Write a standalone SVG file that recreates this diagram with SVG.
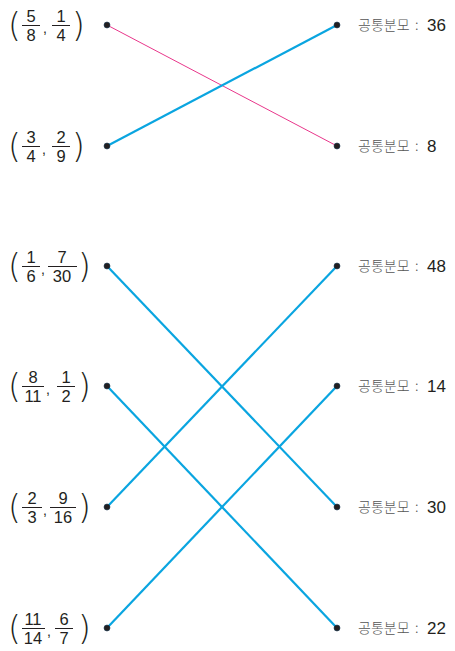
<svg xmlns="http://www.w3.org/2000/svg" width="455" height="651" viewBox="0 0 455 651">
<style>
.num{font-family:"Liberation Sans","Noto Sans",sans-serif;font-size:16.5px;fill:#231f20;text-anchor:middle}
.cm{font-family:"Liberation Sans",sans-serif;font-size:14px;fill:#231f20;text-anchor:middle}
.par{font-family:"DejaVu Sans","Liberation Sans",sans-serif;font-size:33px;fill:#231f20;font-weight:200}
.bar{stroke:#231f20;stroke-width:1}
.ko{font-family:"Noto Sans CJK KR",sans-serif;font-size:14px;fill:#555;font-weight:300}
.val{font-family:"Liberation Sans","Noto Sans",sans-serif;font-size:17px;fill:#231f20}
.pink{stroke:#e8378b;stroke-width:1;fill:none}
.blue{stroke:#0aa5e0;stroke-width:2.2;fill:none}
.dot{fill:#231f20;stroke:#1a3a55;stroke-width:0.6}
</style>
<g id="connectors">
<line class="pink" x1="107" y1="25" x2="337" y2="146"/>
<line class="blue" x1="107" y1="146" x2="337" y2="25"/>
<line class="blue" x1="107" y1="266" x2="337" y2="507"/>
<line class="blue" x1="107" y1="386" x2="337" y2="628"/>
<line class="blue" x1="107" y1="507" x2="337" y2="266"/>
<line class="blue" x1="107" y1="628" x2="337" y2="386"/>
</g>
<g id="left1">
<text class="par" x="8" y="37">(</text>
<text class="num" x="31" y="22">5</text><line class="bar" x1="22" y1="25.5" x2="40" y2="25.5"/><text class="num" x="31" y="41">8</text>
<text class="cm" x="45" y="33">,</text>
<text class="num" x="61" y="22">1</text><line class="bar" x1="52" y1="25.5" x2="70" y2="25.5"/><text class="num" x="61" y="41">4</text>
<text class="par" x="72" y="37">)</text>
<circle class="dot" cx="107" cy="25" r="3"/>
</g>
<g id="left2">
<text class="par" x="8" y="158">(</text>
<text class="num" x="31" y="143">3</text><line class="bar" x1="22" y1="146.5" x2="40" y2="146.5"/><text class="num" x="31" y="162">4</text>
<text class="cm" x="44" y="154">,</text>
<text class="num" x="61" y="143">2</text><line class="bar" x1="52" y1="146.5" x2="70" y2="146.5"/><text class="num" x="61" y="162">9</text>
<text class="par" x="72" y="158">)</text>
<circle class="dot" cx="107" cy="146" r="3"/>
</g>
<g id="left3">
<text class="par" x="8" y="278">(</text>
<text class="num" x="31" y="263">1</text><line class="bar" x1="22" y1="266.5" x2="40" y2="266.5"/><text class="num" x="31" y="282">6</text>
<text class="cm" x="43" y="274">,</text>
<text class="num" x="62" y="263">7</text><line class="bar" x1="48" y1="266.5" x2="77" y2="266.5"/><text class="num" x="62" y="282">30</text>
<text class="par" x="78" y="278">)</text>
<circle class="dot" cx="107" cy="266" r="3"/>
</g>
<g id="left4">
<text class="par" x="8" y="398">(</text>
<text class="num" x="33" y="383">8</text><line class="bar" x1="22" y1="386.5" x2="44" y2="386.5"/><text class="num" x="33" y="402">11</text>
<text class="cm" x="48" y="394">,</text>
<text class="num" x="66" y="383">1</text><line class="bar" x1="57" y1="386.5" x2="75" y2="386.5"/><text class="num" x="66" y="402">2</text>
<text class="par" x="78" y="398">)</text>
<circle class="dot" cx="107" cy="386" r="3"/>
</g>
<g id="left5">
<text class="par" x="8" y="519">(</text>
<text class="num" x="32" y="504">2</text><line class="bar" x1="22" y1="507.5" x2="42" y2="507.5"/><text class="num" x="32" y="523">3</text>
<text class="cm" x="45" y="515">,</text>
<text class="num" x="63" y="504">9</text><line class="bar" x1="50" y1="507.5" x2="76" y2="507.5"/><text class="num" x="63" y="523">16</text>
<text class="par" x="78" y="519">)</text>
<circle class="dot" cx="107" cy="507" r="3"/>
</g>
<g id="left6">
<text class="par" x="8" y="640">(</text>
<text class="num" x="33" y="625">11</text><line class="bar" x1="22" y1="628.5" x2="45" y2="628.5"/><text class="num" x="33" y="644">14</text>
<text class="cm" x="49" y="636">,</text>
<text class="num" x="64" y="625">6</text><line class="bar" x1="55" y1="628.5" x2="73" y2="628.5"/><text class="num" x="64" y="644">7</text>
<text class="par" x="78" y="640">)</text>
<circle class="dot" cx="107" cy="628" r="3"/>
</g>
<g id="right1"><circle class="dot" cx="337" cy="25" r="3"/><text class="ko" x="358" y="30">공통분모<tspan x="415">:</tspan></text><text class="val" x="427" y="31">36</text></g>
<g id="right2"><circle class="dot" cx="337" cy="146" r="3"/><text class="ko" x="358" y="151">공통분모<tspan x="415">:</tspan></text><text class="val" x="427" y="152">8</text></g>
<g id="right3"><circle class="dot" cx="337" cy="266" r="3"/><text class="ko" x="358" y="271">공통분모<tspan x="415">:</tspan></text><text class="val" x="427" y="272">48</text></g>
<g id="right4"><circle class="dot" cx="337" cy="386" r="3"/><text class="ko" x="358" y="391">공통분모<tspan x="415">:</tspan></text><text class="val" x="427" y="392">14</text></g>
<g id="right5"><circle class="dot" cx="337" cy="507" r="3"/><text class="ko" x="358" y="512">공통분모<tspan x="415">:</tspan></text><text class="val" x="427" y="513">30</text></g>
<g id="right6"><circle class="dot" cx="337" cy="628" r="3"/><text class="ko" x="358" y="633">공통분모<tspan x="415">:</tspan></text><text class="val" x="427" y="634">22</text></g>
</svg>
